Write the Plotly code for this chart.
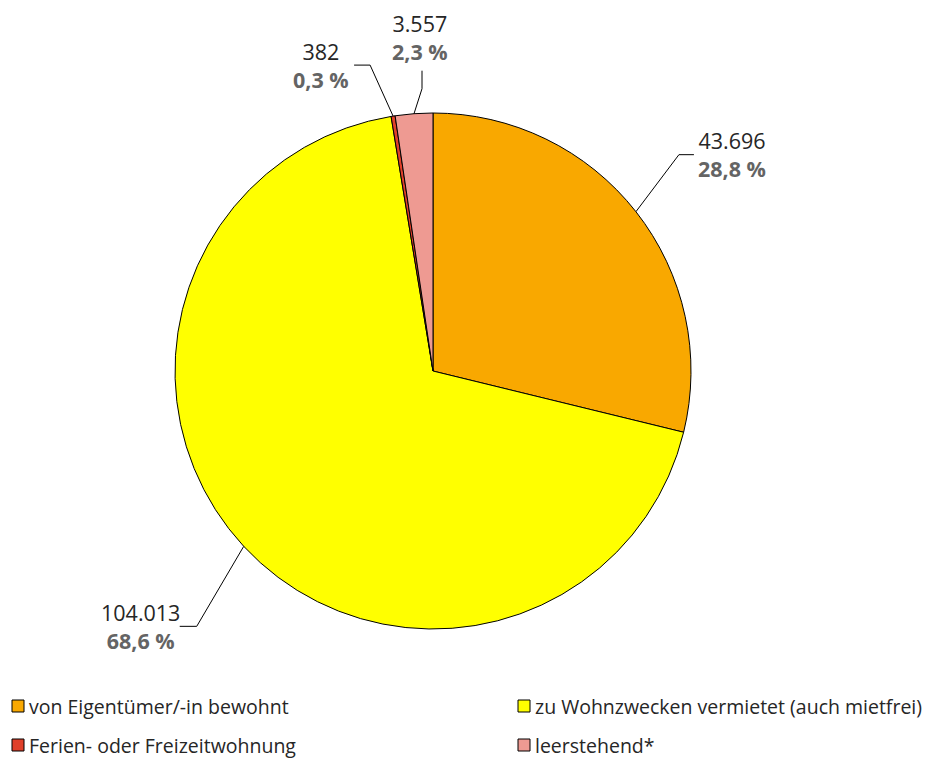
import math
import plotly.graph_objects as go

# ---- data ----
categories = [
    "von Eigentümer/-in bewohnt",
    "zu Wohnzwecken vermietet (auch mietfrei)",
    "Ferien- oder Freizeitwohnung",
    "leerstehend*",
]
values = [43696, 104013, 382, 3557]
colors = ["#F9A800", "#FFFF00", "#E0402A", "#EE9A92"]

# ---- geometry / style (page pixels; the page body has an 8px margin) ----
OFF = 8
W, H = 932 - OFF, 758 - OFF
CX, CY, R = 433, 371, 258          # pie center / radius in page pixels
FONT = "Open Sans"

def px(x):
    return (x - OFF) / W

def py(y):
    return 1 - (y - OFF) / H

fig = go.Figure(go.Pie(
    labels=categories,
    values=values,
    marker=dict(colors=colors, line=dict(color="#000000", width=1)),
    sort=False,
    direction="clockwise",
    rotation=0,
    textinfo="none",
    hoverinfo="label+value+percent",
    showlegend=False,
    domain=dict(x=[px(CX - R), px(CX + R)], y=[py(CY + R), py(CY - R)]),
))

def de_int(v):
    return f"{v:,}".replace(",", ".")

def de_pct(p):
    return f"{p:.1f}".replace(".", ",") + " %"

total = sum(values)

label_style = [
    dict(elbow=(43, -57), hend=15, text=(732, 124)),
    dict(elbow=(-47, 80), hend=-17, text=(140, 596)),
    dict(elbow=(-23, -51), hend=-16, text=(321, 35)),
    dict(elbow=(8, -25), hend=None, vend=-18, text=(420, 7)),
]

shapes = []
annotations = []
cum = 0
for v, st in zip(values, label_style):
    frac_mid = (cum + v / 2) / total
    cum += v
    ang = 2 * math.pi * frac_mid
    ax = CX + R * math.sin(ang)
    ay = CY - R * math.cos(ang)
    ex = ax + st["elbow"][0]
    ey = ay + st["elbow"][1]
    pts = [(ax, ay), (ex, ey)]
    if st.get("hend") is not None:
        pts.append((ex + st["hend"], ey))
    else:
        pts.append((ex, ey + st["vend"]))
    path = "M " + " L ".join(f"{px(x):.5f},{py(y):.5f}" for x, y in pts)
    shapes.append(dict(type="path", path=path, xref="paper", yref="paper",
                       line=dict(color="#000000", width=1)))
    pct = 100 * v / total
    annotations.append(dict(
        x=px(st["text"][0]), y=py(st["text"][1]), xref="paper", yref="paper",
        xanchor="center", yanchor="top", showarrow=False, align="center",
        text=(f"<span style='color:#262626'>{de_int(v)}</span><br>"
              f"<b><span style='color:#646464'>{de_pct(pct)}</span></b>"),
        font=dict(family=FONT, size=21.5),
    ))

# ---- custom legend (2 columns) ----
leg_pos = [(12, 706), (518, 706), (12, 745), (518, 745)]
for name, col, (lx, ly) in zip(categories, colors, leg_pos):
    shapes.append(dict(type="rect", xref="paper", yref="paper",
                       x0=px(lx), x1=px(lx + 12), y0=py(ly + 6), y1=py(ly - 6),
                       fillcolor=col, line=dict(color="#000000", width=1)))
    annotations.append(dict(
        x=px(lx + 16), y=py(ly), xref="paper", yref="paper",
        xanchor="left", yanchor="middle", showarrow=False, borderpad=0,
        text=name, font=dict(family=FONT, size=19.5, color="#262626"),
    ))

fig.update_layout(
    width=W, height=H,
    margin=dict(l=0, r=0, t=0, b=0),
    paper_bgcolor="#FFFFFF",
    plot_bgcolor="#FFFFFF",
    font=dict(family=FONT),
    shapes=shapes,
    annotations=annotations,
    showlegend=False,
)

fig.write_html("out.html")
